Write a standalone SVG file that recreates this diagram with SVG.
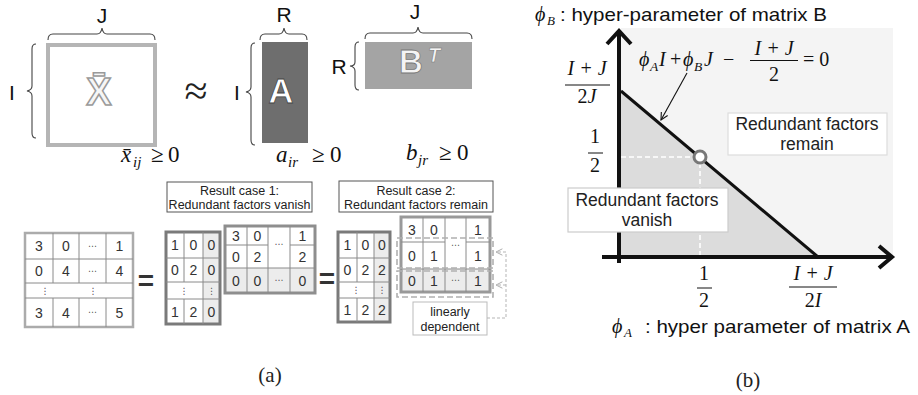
<svg xmlns="http://www.w3.org/2000/svg" width="918" height="395" viewBox="0 0 918 395">
<style>
.sans{font-family:"Liberation Sans",Arial,sans-serif;}
.serif{font-family:"Liberation Serif","DejaVu Serif",serif;}
.it{font-family:"Liberation Serif","DejaVu Serif",serif;font-style:italic;}
.brace{fill:none;stroke:#444;stroke-width:1.1;}
.lbl{font-family:"Liberation Sans",Arial,sans-serif;font-size:21px;fill:#111;text-anchor:middle;}
.cell{font-family:"Liberation Sans",Arial,sans-serif;font-size:14px;fill:#333;text-anchor:middle;}
.dots{font-family:"DejaVu Sans",sans-serif;font-size:9px;fill:#555;text-anchor:middle;}
.grid{stroke:#8a8a8a;stroke-width:1;fill:none;}
.cap{font-family:"Liberation Sans",Arial,sans-serif;font-size:12.5px;fill:#222;text-anchor:middle;}
.box{fill:#fff;stroke:#555;stroke-width:1;}
.math{font-family:"Liberation Serif","DejaVu Serif",serif;font-style:italic;font-size:20px;fill:#111;}
.rm{font-family:"Liberation Serif","DejaVu Serif",serif;font-size:20px;fill:#111;}
.bar{stroke:#111;stroke-width:1;}
.note{font-family:"Liberation Sans",Arial,sans-serif;font-size:17.5px;fill:#222;text-anchor:middle;}
</style>
<defs>
<marker id="open" viewBox="0 0 10 10" refX="9" refY="5" markerWidth="9" markerHeight="9" orient="auto" markerUnits="userSpaceOnUse">
<path d="M1,1 L9,5 L1,9" fill="none" stroke="#111" stroke-width="1.2"/>
</marker>
<marker id="openG" viewBox="0 0 10 10" refX="9" refY="5" markerWidth="8" markerHeight="8" orient="auto" markerUnits="userSpaceOnUse">
<path d="M1,1 L9,5 L1,9" fill="none" stroke="#aaa" stroke-width="1.2"/>
</marker>
</defs>
<rect width="918" height="395" fill="#fff"/>

<!-- ===== Part (a) top ===== -->
<g id="matrixX">
<rect x="48" y="45" width="107" height="100" fill="#fff" stroke="#b5b5b5" stroke-width="4"/>
<text x="99" y="105" class="sans" font-size="38" font-weight="bold" text-anchor="middle" fill="#f6f6f6" stroke="#9a9a9a" stroke-width="1.5">X̄</text>
<path class="brace" d="M48,40 Q48,34 53,34 L97,34 Q101,34 102,28 Q103,34 107,34 L150,34 Q155,34 155,40"/>
<text x="102" y="23" class="lbl">J</text>
<path class="brace" d="M36,44 Q32,44 32,49 L32,86 Q32,90 27,91 Q32,92 32,96 L32,133 Q32,138 36,138"/>
<text x="12" y="100" class="lbl">I</text>
</g>

<g id="approx">
<text x="196" y="105" class="serif" font-size="42" text-anchor="middle" fill="#222">≈</text>
</g>

<g id="matrixA">
<rect x="262" y="42" width="46" height="101" fill="#6e6e6e"/>
<text x="281" y="103" class="sans" font-size="35" font-weight="bold" text-anchor="middle" fill="#fff" stroke="#444" stroke-width="0.8">A</text>
<path class="brace" d="M260,40 Q260,34 265,34 L279,34 Q283,34 284,28 Q285,34 289,34 L302,34 Q307,34 307,40"/>
<text x="284" y="22" class="lbl">R</text>
<path class="brace" d="M255,43 Q251,43 251,48 L251,87 Q251,91 246,92 Q251,93 251,97 L251,140 Q251,145 255,145"/>
<text x="237" y="100" class="lbl">I</text>
</g>

<g id="matrixB">
<rect x="365" y="42" width="107" height="47" fill="#a4a4a4"/>
<text x="411" y="73" class="sans" font-size="33" font-weight="bold" text-anchor="middle" fill="#f4f4f4" stroke="#777" stroke-width="0.8">B</text>
<text x="428" y="62" class="sans" font-size="20" font-weight="bold" font-style="italic" fill="#f4f4f4" stroke="#777" stroke-width="0.6">T</text>
<path class="brace" d="M365,39 Q365,33 370,33 L413,33 Q417,33 418,27 Q419,33 423,33 L467,33 Q472,33 472,39"/>
<text x="415" y="19" class="lbl">J</text>
<path class="brace" d="M359,42 Q355,42 355,47 L355,62 Q355,66 350,66 Q355,67 355,71 L355,85 Q355,90 359,90"/>
<text x="339" y="74" class="lbl">R</text>
</g>

<g id="constraints">
<text x="121" y="162" class="it" font-size="23" fill="#111">x̄</text>
<text x="133" y="167" class="it" font-size="15" fill="#111">ij</text>
<text x="151" y="162" class="serif" font-size="23" fill="#111">≥</text>
<text x="168" y="162" class="serif" font-size="23" fill="#111">0</text>
<text x="276" y="162" class="it" font-size="23" fill="#111">a</text>
<text x="288" y="167" class="it" font-size="15" fill="#111">ir</text>
<text x="312" y="162" class="serif" font-size="23" fill="#111">≥</text>
<text x="330" y="162" class="serif" font-size="23" fill="#111">0</text>
<text x="406" y="160" class="it" font-size="23" fill="#111">b</text>
<text x="418" y="165" class="it" font-size="15" fill="#111">jr</text>
<text x="439" y="160" class="serif" font-size="23" fill="#111">≥</text>
<text x="457" y="160" class="serif" font-size="23" fill="#111">0</text>
</g>

<!-- ===== Part (a) bottom ===== -->
<g id="matrixData">
<rect x="25" y="233" width="108" height="94" fill="#fff" stroke="#ababab" stroke-width="2.5"/>
<path class="grid" d="M25,259 H133 M25,283 H133 M25,298 H133 M53,233 V283 M79,233 V283 M106,233 V283 M53,298 V327 M79,298 V327 M106,298 V327"/>
<text x="39" y="251" class="cell">3</text><text x="66" y="251" class="cell">0</text><text x="92.5" y="249" class="dots">⋯</text><text x="119.5" y="251" class="cell">1</text>
<text x="39" y="276" class="cell">0</text><text x="66" y="276" class="cell">4</text><text x="92.5" y="274" class="dots">⋯</text><text x="119.5" y="276" class="cell">4</text>
<text x="45" y="294" class="dots">⋮</text><text x="93" y="294" class="dots">⋮</text>
<text x="39" y="318" class="cell">3</text><text x="66" y="318" class="cell">4</text><text x="92.5" y="315" class="dots">⋯</text><text x="119.5" y="318" class="cell">5</text>
</g>

<g id="eq1"><text x="146" y="290" class="sans" font-size="28" font-weight="bold" text-anchor="middle" fill="#333">=</text></g>

<g id="case1Label">
<rect x="167" y="182" width="145" height="30" class="box"/>
<text x="239.5" y="195" class="cap">Result case 1:</text>
<text x="239.5" y="209" class="cap">Redundant factors vanish</text>
</g>

<g id="case1A">
<rect x="203" y="232" width="17" height="92" fill="#ececec"/>
<rect x="166" y="232" width="37" height="92" fill="#fff"/>
<rect x="166" y="232" width="54" height="92" fill="none" stroke="#7a7a7a" stroke-width="3"/>
<path class="grid" d="M166,258 H220 M166,282 H220 M166,299 H220 M184,232 V282 M184,299 V324 M203,232 V324"/>
<text x="175" y="250" class="cell">1</text><text x="193.5" y="250" class="cell">0</text><text x="211.5" y="250" class="cell">0</text>
<text x="175" y="275" class="cell">0</text><text x="193.5" y="275" class="cell">2</text><text x="211.5" y="275" class="cell">0</text>
<text x="184" y="294" class="dots">⋮</text><text x="211.5" y="294" class="dots">⋮</text>
<text x="175" y="317" class="cell">1</text><text x="193.5" y="317" class="cell">2</text><text x="211.5" y="317" class="cell">0</text>
</g>

<g id="case1B">
<rect x="225" y="226" width="90" height="67" fill="#fff"/>
<rect x="225" y="268" width="90" height="25" fill="#ececec"/>
<rect x="225" y="226" width="90" height="67" fill="none" stroke="#8e8e8e" stroke-width="3"/>
<path class="grid" d="M225,245 H268 M290,245 H315 M225,268 H315 M247,226 V293 M268,226 V293 M290,226 V293"/>
<text x="236" y="241" class="cell">3</text><text x="257.5" y="241" class="cell">0</text><text x="302.5" y="241" class="cell">1</text>
<text x="279" y="247" class="dots">⋯</text>
<text x="236" y="262" class="cell">0</text><text x="257.5" y="262" class="cell">2</text><text x="302.5" y="262" class="cell">2</text>
<text x="236" y="286" class="cell">0</text><text x="257.5" y="286" class="cell">0</text><text x="279" y="283" class="dots">⋯</text><text x="302.5" y="286" class="cell">0</text>
</g>

<g id="eq2"><text x="327" y="288" class="sans" font-size="28" font-weight="bold" text-anchor="middle" fill="#333">=</text></g>

<g id="case2Label">
<rect x="339" y="181" width="154" height="31" class="box"/>
<text x="416" y="195" class="cap">Result case 2:</text>
<text x="416" y="209" class="cap">Redundant factors remain</text>
</g>

<g id="case2A">
<rect x="374" y="232" width="16" height="90" fill="#ececec"/>
<rect x="338" y="232" width="36" height="90" fill="#fff"/>
<rect x="338" y="232" width="52" height="90" fill="none" stroke="#7a7a7a" stroke-width="3"/>
<path class="grid" d="M338,258 H390 M338,282 H390 M338,298 H390 M357,232 V282 M357,298 V322 M374,232 V322"/>
<text x="347.5" y="250" class="cell">1</text><text x="365.5" y="250" class="cell">0</text><text x="382" y="250" class="cell">0</text>
<text x="347.5" y="275" class="cell">0</text><text x="365.5" y="275" class="cell">2</text><text x="382" y="275" class="cell">2</text>
<text x="356" y="293" class="dots">⋮</text><text x="382" y="293" class="dots">⋮</text>
<text x="347.5" y="315" class="cell">1</text><text x="365.5" y="315" class="cell">2</text><text x="382" y="315" class="cell">2</text>
</g>

<g id="case2B">
<rect x="401" y="217" width="89" height="75" fill="#fff"/>
<rect x="401" y="269" width="89" height="23" fill="#ececec"/>
<rect x="401" y="217" width="89" height="75" fill="none" stroke="#999" stroke-width="3"/>
<path class="grid" d="M401,242 H445 M466,242 H490 M401,269 H490 M423,217 V292 M445,217 V292 M466,217 V292"/>
<text x="412" y="235" class="cell">3</text><text x="434" y="235" class="cell">0</text><text x="478" y="235" class="cell">1</text>
<text x="455.5" y="248" class="dots">⋯</text>
<text x="412" y="261" class="cell">0</text><text x="434" y="261" class="cell">1</text><text x="478" y="261" class="cell">1</text>
<text x="412" y="286" class="cell">0</text><text x="434" y="286" class="cell">1</text><text x="455.5" y="283" class="dots">⋯</text><text x="478" y="286" class="cell">1</text>
<rect x="397" y="238" width="96" height="30" fill="none" stroke="#b0b0b0" stroke-width="1.6" stroke-dasharray="6,3"/>
<rect x="397" y="271" width="96" height="26" fill="none" stroke="#b0b0b0" stroke-width="1.6" stroke-dasharray="6,3"/>
</g>

<g id="linDep">
<rect x="413" y="302" width="74" height="33" fill="#fff" stroke="#bbb" stroke-width="1"/>
<text x="450" y="316" class="cap">linearly</text>
<text x="450" y="331" class="cap">dependent</text>
</g>

<g id="captionA"><text x="270" y="382" class="serif" font-size="21" text-anchor="middle" fill="#222">(a)</text></g>

<!-- ===== Part (b) ===== -->
<g id="plotBg">
<rect x="621" y="28" width="272" height="229" fill="#f4f4f4"/>
<polygon points="621,91 818,257 621,257" fill="#dcdcdc"/>
<line x1="621" y1="157" x2="694" y2="157" stroke="#fff" stroke-width="1.6" stroke-dasharray="5,3"/>
<line x1="700" y1="163" x2="700" y2="257" stroke="#fff" stroke-width="1.6" stroke-dasharray="5,3"/>
</g>

<g id="connectors">
<line x1="619" y1="263" x2="619" y2="33" stroke="#111" stroke-width="4"/>
<path d="M607,44 L619,31 L631,44" fill="none" stroke="#111" stroke-width="4"/>
<line x1="602" y1="257" x2="890" y2="257" stroke="#111" stroke-width="4"/>
<path d="M879,246 L892,257 L879,268" fill="none" stroke="#111" stroke-width="4"/>
<line x1="621" y1="91" x2="818" y2="257" stroke="#111" stroke-width="3"/>
<line x1="687" y1="73" x2="661" y2="120" stroke="#111" stroke-width="1.1" marker-end="url(#open)"/>
<path d="M487,318 H506 V252 H496" fill="none" stroke="#b5b5b5" stroke-width="1" stroke-dasharray="3,2" marker-end="url(#openG)"/>
<path d="M506,285 H496" fill="none" stroke="#b5b5b5" stroke-width="1" stroke-dasharray="3,2" marker-end="url(#openG)"/>
</g>

<g id="point">
<circle cx="700" cy="157" r="6" fill="#fff" stroke="#777" stroke-width="3"/>
</g>

<g id="titleB">
<text x="535" y="21" class="math">ϕ</text>
<text x="547" y="25" class="it" font-size="13" fill="#111">B</text>
<text x="560" y="21" class="sans" font-size="19" fill="#111" textLength="267" lengthAdjust="spacingAndGlyphs">: hyper-parameter of matrix B</text>
</g>

<g id="equation">
<text x="639" y="66" class="math">ϕ</text>
<text x="650" y="71" class="it" font-size="13.5" fill="#111">A</text>
<text x="659" y="66" class="math">I</text>
<text x="670" y="66" class="rm">+</text>
<text x="683" y="66" class="math">ϕ</text>
<text x="694" y="71" class="it" font-size="13.5" fill="#111">B</text>
<text x="704" y="66" class="math">J</text>
<text x="723" y="66" class="rm">−</text>
<text x="774" y="55" class="math" text-anchor="middle">I + J</text>
<line x1="750" y1="60.5" x2="798" y2="60.5" class="bar"/>
<text x="774" y="81" class="rm" text-anchor="middle">2</text>
<text x="803" y="66" class="rm">= 0</text>
</g>

<g id="yLabels">
<text x="587" y="75" class="math" text-anchor="middle">I + J</text>
<line x1="565" y1="85" x2="610" y2="85" class="bar"/>
<text x="587" y="103" class="math" text-anchor="middle"><tspan class="rm" font-style="normal">2</tspan>J</text>
<text x="595" y="143" class="rm" text-anchor="middle">1</text>
<line x1="588" y1="153" x2="603" y2="153" class="bar"/>
<text x="595" y="172" class="rm" text-anchor="middle">2</text>
</g>

<g id="xLabels">
<text x="704" y="280" class="rm" text-anchor="middle">1</text>
<line x1="697" y1="288" x2="712" y2="288" class="bar"/>
<text x="704" y="307" class="rm" text-anchor="middle">2</text>
<text x="813" y="280" class="math" text-anchor="middle">I + J</text>
<line x1="789" y1="287" x2="837" y2="287" class="bar"/>
<text x="813" y="307" class="math" text-anchor="middle"><tspan class="rm" font-style="normal">2</tspan>I</text>
</g>

<g id="remainBox">
<rect x="728" y="113" width="159" height="42" fill="#fff" stroke="#ddd" stroke-width="1.2"/>
<text x="807" y="130" class="note">Redundant factors</text>
<text x="807" y="150" class="note">remain</text>
</g>

<g id="vanishBox">
<rect x="568" y="188" width="160" height="44" fill="#fff" stroke="#ccc" stroke-width="1.2"/>
<text x="647" y="206" class="note">Redundant factors</text>
<text x="647" y="226" class="note">vanish</text>
</g>

<g id="xAxisLabel">
<text x="612" y="333" class="math">ϕ</text>
<text x="624" y="337" class="it" font-size="13" fill="#111">A</text>
<text x="645" y="333" class="sans" font-size="19" fill="#111" textLength="265" lengthAdjust="spacingAndGlyphs">: hyper parameter of matrix A</text>
</g>

<g id="captionB"><text x="748" y="387" class="serif" font-size="21" text-anchor="middle" fill="#222">(b)</text></g>
</svg>
